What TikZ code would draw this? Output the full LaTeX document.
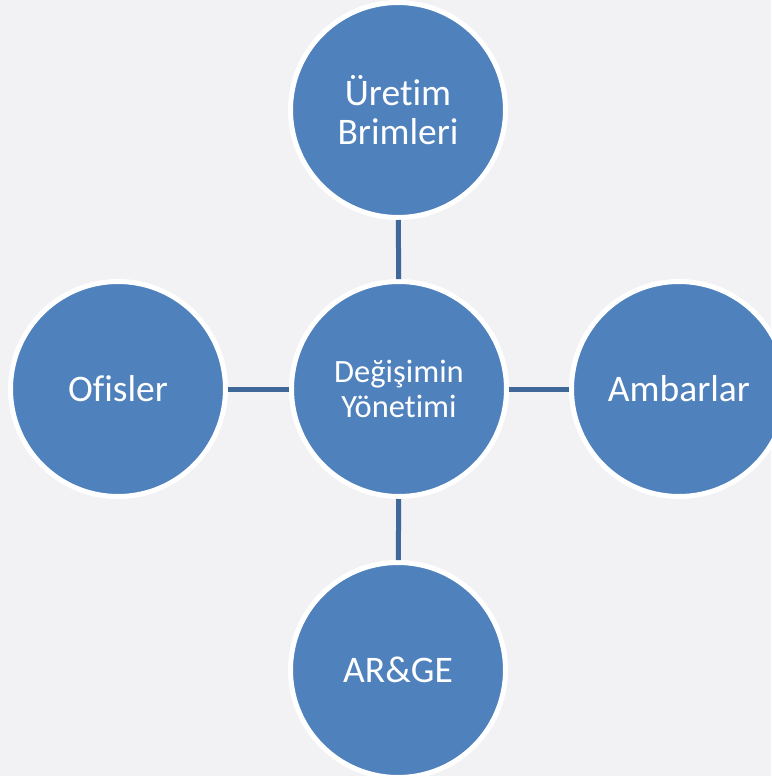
\documentclass[tikz,border=0pt]{standalone}
\usepackage{fontspec}
\setmainfont[RawFeature=-liga]{Carlito}
\definecolor{bgc}{HTML}{F2F2F4}
\definecolor{circfill}{HTML}{4F81BD}
\definecolor{linkc}{HTML}{3F6898}
\begin{document}
\begin{tikzpicture}[x=1pt,y=-1pt,
  bubble/.style={circle,fill=circfill,draw=white,line width=5pt,minimum size=215pt,inner sep=0pt,align=center,text=white,font=\fontsize{37.5}{39}\selectfont},
  hub/.style={bubble,font=\fontsize{32.5}{35}\selectfont},
  link/.style={draw=linkc,line width=5pt}]
\fill[bgc] (0,0) rectangle (771,776);
\useasboundingbox (0,0) rectangle (771,776);
\node[hub] (c) at (399,389) {Değişimin\\Yönetimi};
\node[bubble] (t) at (398,110) {Üretim\\Brimleri};
\node[bubble] (l) at (118,389) {Ofisler};
\node[bubble] (r) at (679,389) {Ambarlar};
\node[bubble] (b) at (398,670) {AR\&GE};
\draw[link] (c) -- (t);
\draw[link] (c) -- (l);
\draw[link] (c) -- (r);
\draw[link] (c) -- (b);
\end{tikzpicture}
\end{document}
